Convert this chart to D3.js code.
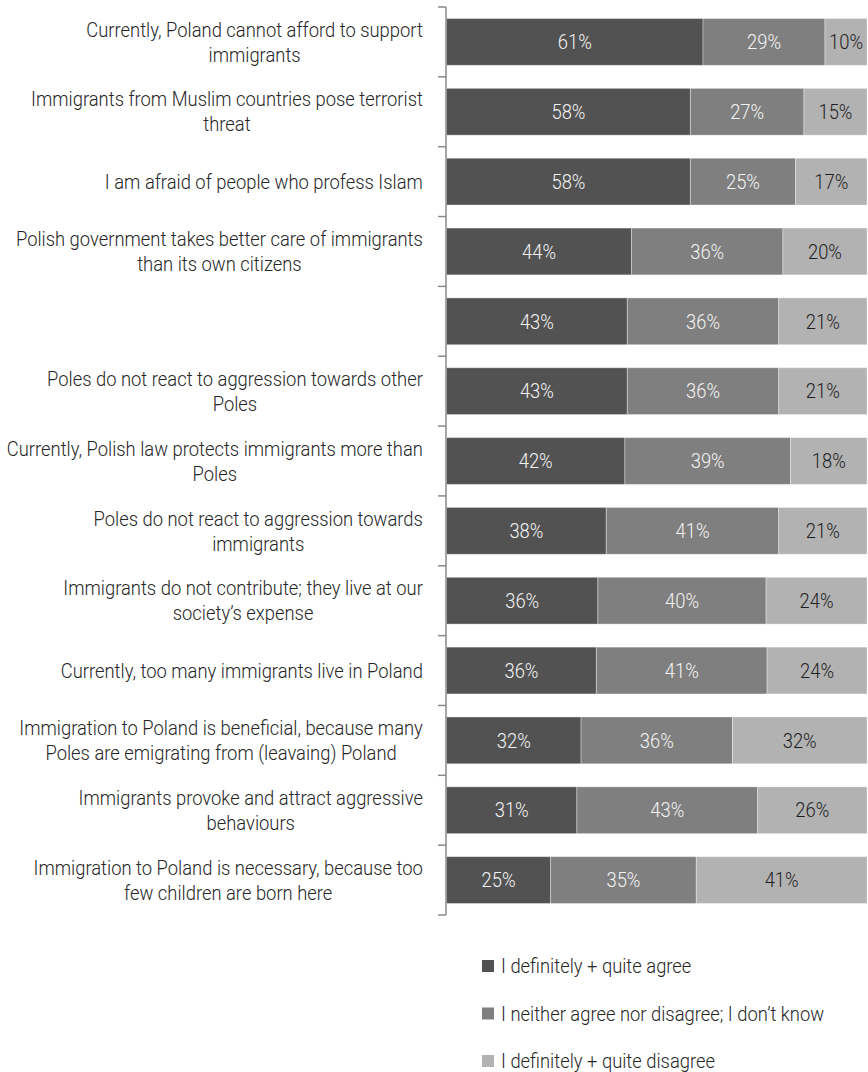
<!DOCTYPE html>
<html>
<head>
<meta charset="utf-8">
<script src="https://cdn.jsdelivr.net/npm/d3@7/dist/d3.min.js"></script>
<style>
  html, body { margin: 0; padding: 0; background: #fff; }
  svg { display: block; }
  text { font-family: Roboto, "Open Sans", sans-serif; font-weight: 300; }
</style>
</head>
<body>
<svg id="chart" width="868" height="1072"></svg>
<script>
// Statement labels, one entry per line of text
const categories = [
  ["Currently, Poland cannot afford to support", "immigrants"],
  ["Immigrants from Muslim countries pose terrorist", "threat"],
  ["I am afraid of people who profess Islam"],
  ["Polish government takes better care of immigrants", "than its own citizens"],
  [],
  ["Poles do not react to aggression towards other", "Poles"],
  ["Currently, Polish law protects immigrants more than", "Poles"],
  ["Poles do not react to aggression towards", "immigrants"],
  ["Immigrants do not contribute; they live at our", "society’s expense"],
  ["Currently, too many immigrants live in Poland"],
  ["Immigration to Poland is beneficial, because many", "Poles are emigrating from (leavaing) Poland"],
  ["Immigrants provoke and attract aggressive", "behaviours"],
  ["Immigration to Poland is necessary, because too", "few children are born here"]
];

// Percentages per answer group
const agree    = [61, 58, 58, 44, 43, 43, 42, 38, 36, 36, 32, 31, 25];
const neutral  = [29, 27, 25, 36, 36, 36, 39, 41, 40, 41, 36, 43, 35];
const disagree = [10, 15, 17, 20, 21, 21, 18, 21, 24, 24, 32, 26, 41];

const seriesNames = [
  "I definitely + quite agree",
  "I neither agree nor disagree; I don’t know",
  "I definitely + quite disagree"
];
const seriesKeys = ["agree", "neutral", "disagree"];
const seriesColors = ["#525252", "#7f7f7f", "#b2b2b2"];
const valueColors = ["#f4f4f4", "#f4f4f4", "#1e1e1e"];

const rows = categories.map((c, i) => ({
  index: i,
  agree: agree[i],
  neutral: neutral[i],
  disagree: disagree[i]
}));

const svg = d3.select("#chart");
const axisX = 446;
const labelRight = 423;
const squeeze = 0.92;

const y = d3.scaleBand()
  .domain(rows.map(d => d.index))
  .range([7, 915])
  .paddingInner(0.33)
  .paddingOuter(0.165);

const x = d3.scaleLinear().domain([0, 1]).range([axisX + 0.5, 867]);

const color = d3.scaleOrdinal().domain(seriesKeys).range(seriesColors);
const textColor = d3.scaleOrdinal().domain(seriesKeys).range(valueColors);

// Each row is shown as shares of its own total
const stacked = d3.stack()
  .keys(seriesKeys)
  .offset(d3.stackOffsetExpand)(rows);

const layers = svg.append("g")
  .selectAll("g")
  .data(stacked)
  .join("g")
  .attr("fill", d => color(d.key));

layers.selectAll("rect")
  .data(d => d.map(p => Object.assign(p, { key: d.key })))
  .join("rect")
  .attr("x", d => x(d[0]))
  .attr("y", d => y(d.data.index))
  .attr("width", d => x(d[1]) - x(d[0]))
  .attr("height", y.bandwidth())
  .attr("stroke", "rgba(255,255,255,0.35)")
  .attr("stroke-width", 1);

// Value labels centred in each segment
layers.selectAll("text")
  .data(d => d)
  .join("text")
  .attr("transform", d => `translate(${(x(d[0]) + x(d[1])) / 2},${y(d.data.index) + y.bandwidth() / 2}) scale(${squeeze},1)`)
  .attr("text-anchor", "middle")
  .attr("dy", "0.36em")
  .attr("font-size", 20)
  .attr("fill", d => textColor(d.key))
  .text(d => d.data[d.key] + "%");

// Category axis: spine with ticks between the rows
const step = y.step();
const boundaries = d3.range(rows.length + 1).map(i =>
  i === rows.length ? y(rows.length - 1) + y.bandwidth() + y.paddingOuter() * step
                    : y(i) - (i === 0 ? y.paddingOuter() : y.paddingInner() / 2) * step);
const axis = svg.append("g").attr("stroke", "#8a8a8a").attr("stroke-width", 1.5);
axis.append("line")
  .attr("x1", axisX).attr("x2", axisX)
  .attr("y1", boundaries[0]).attr("y2", boundaries[boundaries.length - 1]);
axis.selectAll("line.tick")
  .data(boundaries)
  .join("line")
  .attr("class", "tick")
  .attr("x1", axisX - 8).attr("x2", axisX)
  .attr("y1", d => d).attr("y2", d => d);

// Category labels: each block sits flush against the axis, its lines centred within it
const lineHeight = 25;
const labels = svg.append("g");
rows.forEach((r, i) => {
  const lines = categories[i];
  if (!lines.length) return;
  const cy = y(i) + y.bandwidth() / 2;
  const block = labels.append("g");
  const texts = lines.map((line, j) => {
    const offset = (j - (lines.length - 1) / 2) * lineHeight;
    return block.append("text")
      .attr("text-anchor", "middle")
      .attr("dy", "0.36em")
      .attr("font-size", 20)
      .attr("fill", "#262626")
      .datum(offset)
      .text(line);
  });
  const widest = d3.max(texts, t => t.node().getComputedTextLength()) * squeeze;
  const cx = labelRight - widest / 2;
  texts.forEach(t => t.attr("transform", d => `translate(${cx},${cy + d}) scale(${squeeze},1)`));
});

// Legend
const legend = svg.append("g")
  .selectAll("g")
  .data(seriesKeys)
  .join("g")
  .attr("transform", (d, i) => `translate(482,${966 + i * 47.5})`);
legend.append("rect")
  .attr("x", 0).attr("y", -6)
  .attr("width", 12).attr("height", 12)
  .attr("fill", d => color(d));
legend.append("text")
  .attr("transform", `translate(19,0) scale(${squeeze},1)`)
  .attr("dy", "0.36em")
  .attr("font-size", 20)
  .attr("fill", "#262626")
  .text((d, i) => seriesNames[i]);
</script>
</body>
</html>
